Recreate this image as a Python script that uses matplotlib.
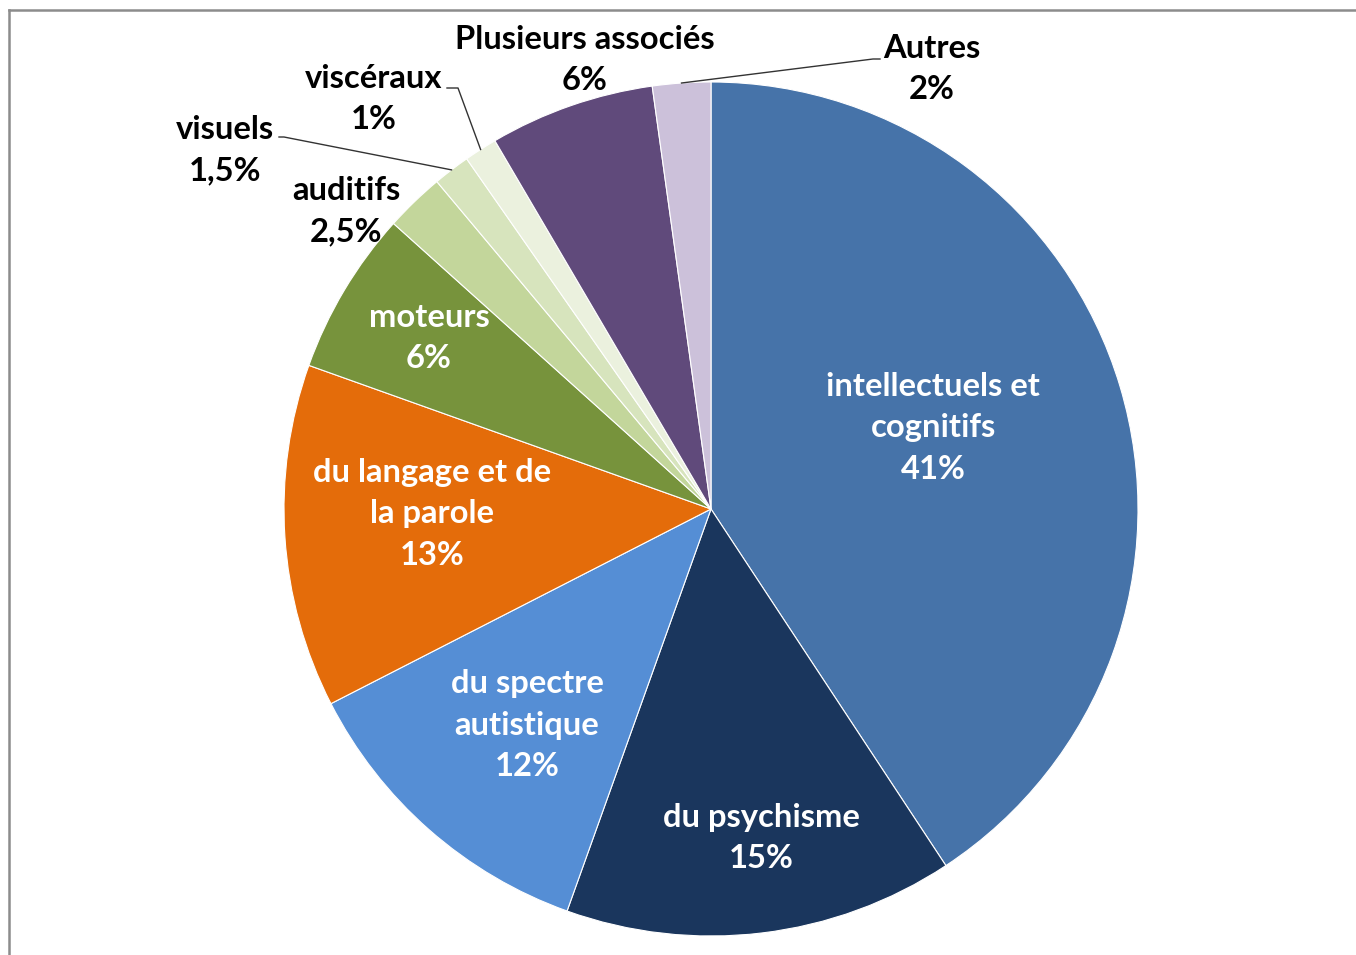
import numpy as np
import matplotlib
matplotlib.use("Agg")
import matplotlib.pyplot as plt

# ---- data ----
categories = ["intellectuels et\ncognitifs", "du psychisme", "du spectre\nautistique",
              "du langage et de\nla parole", "moteurs", "auditifs", "visuels",
              "viscéraux", "Plusieurs associés", "Autres"]
values = [40.75, 14.75, 12.0, 13.0, 6.2, 2.25, 1.4, 1.25, 6.25, 2.2]
pct_labels = ["41%", "15%", "12%", "13%", "6%", "2,5%", "1,5%", "1%", "6%", "2%"]
colors = ["#4673A9", "#1A365D", "#558ED5", "#E46C0A", "#77933C",
          "#C3D69B", "#D7E4BD", "#EBF1DE", "#604A7B", "#CCC1DA"]

# ---- layout (pixel space, y from top) ----
W, H = 1356, 955
cx, cy_top, R = 711, 509, 427
label_pos = [(933, 428), (761, 838), (527, 725), (432, 514), (429, 338),
             (346, 211), (225, 150), (374, 99), (585, 60), (932, 69)]
inside = [True, True, True, True, True, False, False, False, False, False]
# leader lines: (index, label-side anchor points)
leaders = {6: [(279, 137), (284, 137)],
           7: [(447, 88), (458, 88)],
           9: [(880, 59), (873, 59)]}

fig = plt.figure(figsize=(W / 100, H / 100), dpi=100)
ax = fig.add_axes([0, 0, 1, 1])

def fy(y):
    return H - y

wedges, _ = ax.pie(values, colors=colors, startangle=90, counterclock=False,
                   center=(cx, fy(cy_top)), radius=R,
                   wedgeprops=dict(edgecolor="white", linewidth=0.8))

ax.set_xlim(0, W)
ax.set_ylim(0, H)
ax.set_aspect("equal")
ax.axis("off")

plt.rcParams["font.family"] = ["Lato", "DejaVu Sans"]

for i, (name, pct) in enumerate(zip(categories, pct_labels)):
    x, y = label_pos[i]
    ax.text(x, fy(y), f"{name}\n{pct}", ha="center", va="center",
            fontsize=23.6, fontweight="bold", family=["Lato", "DejaVu Sans"],
            color="white" if inside[i] else "black", linespacing=1.54)

for i, pts in leaders.items():
    w = wedges[i]
    mid = np.deg2rad((w.theta1 + w.theta2) / 2)
    ex = cx + R * np.cos(mid)
    ey = fy(cy_top) + R * np.sin(mid)
    xs = [p[0] for p in pts] + [ex]
    ys = [fy(p[1]) for p in pts] + [ey]
    ax.plot(xs, ys, color="#333333", lw=1.0)

# chart frame (top and left edges visible)
ax.plot([9, W], [fy(10), fy(10)], color="#8c8c8c", lw=1.8, clip_on=False)
ax.plot([9, 9], [fy(10), 0], color="#8c8c8c", lw=1.8, clip_on=False)

fig.savefig("out.png", dpi=100, facecolor="white")
